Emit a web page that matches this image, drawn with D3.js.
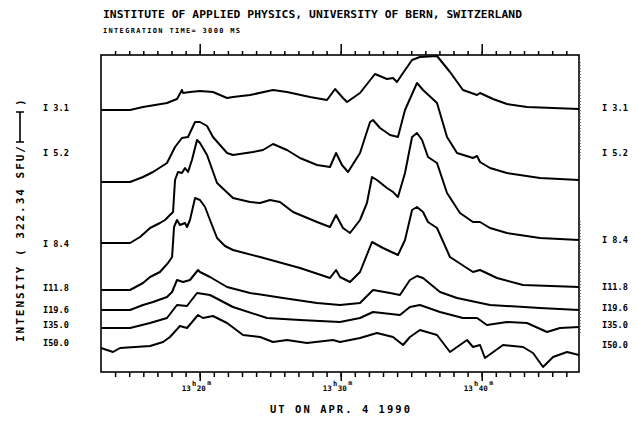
<!DOCTYPE html>
<html lang="en">
<head>
    <meta charset="utf-8">
    <title>IAP Bern - radio flux, Apr 4 1990</title>
    <script src="https://d3js.org/d3.v7.min.js"></script>
    <style>
        body { margin: 0; background: #fff; }
        text { font-family: "DejaVu Sans Mono", monospace; font-weight: bold; fill: #000; }
    </style>
</head>
<body>
<div class="chart"></div>
<script>
    // channel labels (GHz) and their label levels on the y scale
    const channels = ["I 3.1", "I 5.2", "I 8.4", "I11.8", "I19.6", "I35.0", "I50.0"];
    const leftLevels = [264, 219, 128, 84, 62, 47, 29];
    const rightLevels = [264, 219, 132, 85, 64, 47, 27];

    // time in minutes after 13:00 UT, value = offset trace height
    const t_3_1 = [13.0,15.06,15.98,17.68,18.39,18.74,18.82,19.31,20.02,20.94,21.94,22.36,23.57,25.20,26.19,27.82,29.03,29.60,30.16,30.45,31.37,32.43,33.28,33.71,33.99,34.42,35.06,35.62,36.83,37.75,38.67,39.67,39.88,40.80,41.79,43.21,46.9];
    const s_3_1 = [262,262,265,269,273,282,279,280,281,280,274,275,277,282,280,275,272,283,274,270,279,298,293,294,290,299,312,315,316,300,282,277,279,273,268,265,263];

    const t_5_2 = [13.0,15.06,15.98,16.69,17.68,18.25,18.74,19.17,19.67,20.02,20.52,20.94,21.94,22.36,23.78,24.49,25.20,26.19,27.11,28.32,29.24,29.67,30.09,30.52,31.37,32.08,32.29,32.79,33.50,34.06,34.56,35.41,35.84,36.83,37.54,38.25,39.38,39.67,39.88,40.59,41.79,44.13,46.9];
    const s_5_2 = [190,190,195,200,209,225,234,235,250,250,246,235,219,217,220,222,228,222,214,207,205,219,207,200,219,250,252,244,237,235,262,289,282,269,235,219,214,216,210,204,199,194,192];

    const t_8_4 = [13.0,15.06,15.77,16.48,17.18,17.54,17.89,18.11,18.25,18.46,18.74,18.96,19.17,19.45,19.81,20.02,20.52,21.23,22.36,23.57,24.28,24.99,25.69,26.62,28.32,29.24,29.67,30.16,30.66,31.37,31.86,32.22,32.57,33.28,33.71,34.06,34.56,35.06,35.41,35.77,36.19,36.83,37.54,38.46,39.38,39.88,40.59,41.79,44.13,46.9];
    const s_8_4 = [129,129,135,144,149,152,157,160,192,200,199,204,200,212,232,229,217,189,174,170,169,172,170,160,150,145,157,144,139,152,169,195,192,184,180,175,199,235,239,232,215,209,179,159,150,150,144,139,134,132];

    const t_11_8 = [13.0,15.06,15.98,16.48,17.18,17.75,18.04,18.18,18.39,18.60,18.96,19.10,19.31,19.67,20.02,20.38,20.73,21.23,21.79,22.36,24.28,27.11,29.24,29.67,29.95,30.66,31.37,32.22,33.00,34.06,34.56,35.06,35.41,35.84,36.19,36.83,37.75,39.38,39.88,41.08,42.93,46.9];
    const s_11_8 = [82,82,89,95,100,109,115,145,152,147,149,145,152,174,172,165,152,134,126,122,115,104,94,102,95,90,100,130,124,117,132,162,165,160,150,144,115,100,102,94,87,85];

    const t_19_6 = [13.0,15.06,15.98,16.69,17.68,18.04,18.39,18.82,19.31,19.88,20.02,20.73,21.94,23.57,25.91,28.32,29.95,31.37,32.29,33.50,34.20,34.91,35.41,35.84,37.04,38.25,40.59,44.13,46.9];
    const s_19_6 = [62,62,67,70,75,80,92,90,92,102,100,95,85,79,74,69,67,69,82,79,77,92,96,94,80,74,67,64,62];

    const t_35 = [13.0,15.06,16.48,17.68,18.39,19.10,19.81,20.73,22.36,24.77,27.11,29.95,31.37,32.29,34.20,34.91,35.62,37.04,38.67,39.67,40.37,41.79,43.21,44.63,45.55,46.9];
    const s_35 = [44,44,49,54,67,66,79,77,65,54,52,50,54,60,57,65,67,60,54,54,47,50,49,40,44,45];

    const t_50 = [13.0,13.85,14.35,16.48,17.40,17.89,18.60,19.10,19.88,20.23,20.94,21.94,23.07,24.28,25.20,26.19,27.61,29.45,29.95,31.37,32.57,33.71,34.42,34.91,35.62,36.83,37.75,38.96,39.38,39.88,40.23,41.51,42.93,43.64,44.35,45.06,46.05,46.9];
    const s_50 = [24,20,24,26,30,35,46,44,57,54,56,49,37,35,30,32,29,32,30,34,39,35,27,35,42,37,20,32,25,27,14,27,25,19,5,15,20,17];

    const majorTicks = [20, 30, 40];
    const majorHours = ["13", "13", "13"];
    const majorMins = ["20", "30", "40"];

    const traces = [
        [t_3_1, s_3_1], [t_5_2, s_5_2], [t_8_4, s_8_4], [t_11_8, s_11_8],
        [t_19_6, s_19_6], [t_35, s_35], [t_50, s_50]
    ];

    // CHART ------------------------------
    const W = 637, H = 422;
    const margin = {top: 55, right: 58, bottom: 50, left: 101};
    const w = W - margin.left - margin.right;
    const h = H - margin.top - margin.bottom;

    const svg = d3.select(".chart").append("svg")
        .attr("width", W)
        .attr("height", H);

    const x = d3.scaleLinear().domain([13.0, 46.9]).range([margin.left, margin.left + w]);
    const y = d3.scaleLinear().domain([0, 317]).range([margin.top + h, margin.top]);

    // title block
    svg.append("text")
        .attr("x", 103).attr("y", 18)
        .attr("font-size", 11.3)
        .attr("textLength", 419)
        .text("INSTITUTE OF APPLIED PHYSICS, UNIVERSITY OF BERN, SWITZERLAND");
    svg.append("text")
        .attr("x", 103).attr("y", 33)
        .attr("font-size", 7)
        .attr("textLength", 137)
        .text("INTEGRATION TIME= 3000 MS");

    // frame
    svg.append("rect")
        .attr("x", margin.left).attr("y", margin.top)
        .attr("width", w).attr("height", h)
        .attr("fill", "none").attr("stroke", "#000").attr("stroke-width", 1.6);

    // minute ticks top and bottom
    const minutes = d3.range(14, 47);
    const axisStyle = g => {
        g.select(".domain").remove();
        g.selectAll("line").attr("stroke", "#000").attr("stroke-width", 1.5);
    };
    svg.append("g")
        .attr("transform", `translate(0,${margin.top})`)
        .call(d3.axisTop(x).tickValues(minutes).tickSize(4).tickFormat(""))
        .call(axisStyle);
    svg.append("g")
        .attr("transform", `translate(0,${margin.top})`)
        .call(d3.axisTop(x).tickValues(majorTicks).tickSize(11).tickFormat(""))
        .call(axisStyle);
    svg.append("g")
        .attr("transform", `translate(0,${margin.top + h})`)
        .call(d3.axisBottom(x).tickValues(minutes).tickSize(5).tickFormat(""))
        .call(axisStyle);
    svg.append("g")
        .attr("transform", `translate(0,${margin.top + h})`)
        .call(d3.axisBottom(x).tickValues(majorTicks).tickSize(9).tickFormat(""))
        .call(axisStyle);

    // faint y ticks along the right frame
    const rightTicks = d3.range(40, 152, 3).concat(d3.range(214, 312, 3));
    svg.append("g")
        .attr("transform", `translate(${margin.left + w},0)`)
        .call(d3.axisRight(y).tickValues(rightTicks).tickSize(2).tickFormat(""))
        .call(g => g.select(".domain").remove())
        .call(g => g.selectAll("line").attr("stroke", "#555").attr("stroke-width", 0.8));

    // time labels 13h20m etc
    majorTicks.forEach((m, i) => {
        const cx = x(m);
        svg.append("text")
            .attr("x", cx - 9).attr("y", 391)
            .attr("text-anchor", "end")
            .attr("font-size", 7.5)
            .text(majorHours[i]);
        svg.append("text")
            .attr("x", cx - 5.5).attr("y", 386)
            .attr("text-anchor", "middle")
            .attr("font-size", 7)
            .text("h");
        svg.append("text")
            .attr("x", cx - 3).attr("y", 391)
            .attr("font-size", 7.5)
            .text(majorMins[i]);
        svg.append("text")
            .attr("x", cx + 7.5).attr("y", 385)
            .attr("font-size", 6.5)
            .text("m");
    });

    svg.append("text")
        .attr("x", 340).attr("y", 413)
        .attr("text-anchor", "middle")
        .attr("font-size", 10.5)
        .attr("textLength", 140)
        .text("UT ON APR. 4  1990");

    // y title with scale bar
    const yt = svg.append("g").attr("transform", "translate(24,342) rotate(-90)");
    yt.append("text")
        .attr("x", 0).attr("y", 0)
        .attr("font-size", 11)
        .attr("textLength", 196)
        .text("INTENSITY ( 322.34 SFU/");
    yt.append("path")
        .attr("d", "M200,-8 V0 M200,-4 H230 M230,-8 V0")
        .attr("fill", "none").attr("stroke", "#000").attr("stroke-width", 1.6);
    yt.append("text")
        .attr("x", 236).attr("y", 0)
        .attr("font-size", 11)
        .text(")");

    // channel labels
    svg.selectAll(".lab-left")
        .data(channels)
        .join("text")
        .attr("class", "lab-left")
        .attr("x", 43)
        .attr("y", (d, i) => y(leftLevels[i]) + 3)
        .attr("font-size", 8.6)
        .text(d => d);
    svg.selectAll(".lab-right")
        .data(channels)
        .join("text")
        .attr("class", "lab-right")
        .attr("x", 602)
        .attr("y", (d, i) => y(rightLevels[i]) + 3)
        .attr("font-size", 8.6)
        .text(d => d);

    // traces
    const line = d3.line()
        .x(d => x(d[0]))
        .y(d => y(d[1]));

    svg.selectAll(".trace")
        .data(traces.map(([t, s]) => t.map((tt, k) => [tt, s[k]])))
        .join("path")
        .attr("class", "trace")
        .attr("d", line)
        .attr("fill", "none")
        .attr("stroke", "#000")
        .attr("stroke-width", 2)
        .attr("stroke-linejoin", "round");
</script>
</body>
</html>
